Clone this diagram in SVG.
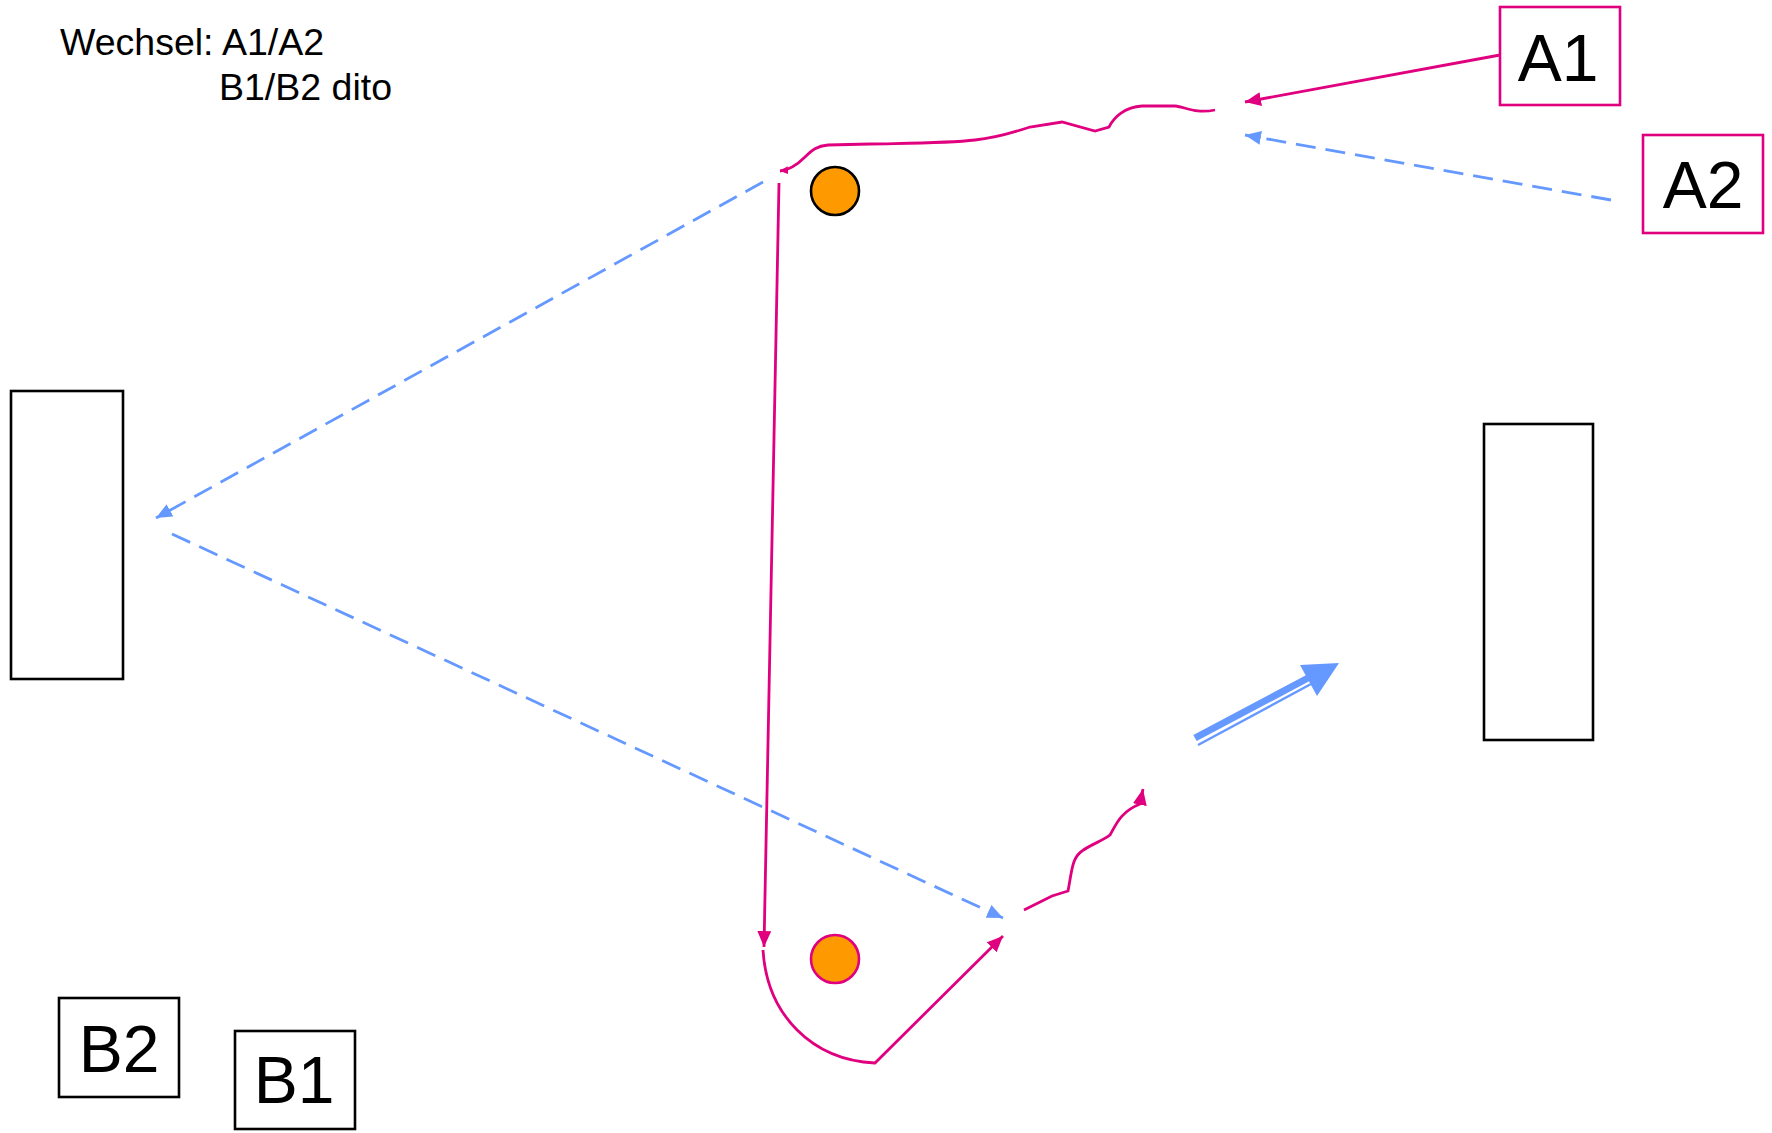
<svg xmlns="http://www.w3.org/2000/svg" width="1772" height="1133" viewBox="0 0 1772 1133">
<style>
.lbl{font-family:"Liberation Sans",Arial,sans-serif;fill:#000}
.big{font-size:66px;text-anchor:middle}
.note{font-size:37.5px}
.mg{fill:none;stroke:#e0007f;stroke-width:2.8}
.bl{fill:none;stroke:#6699ff;stroke-width:2.8;stroke-dasharray:20 10}
.box{fill:#fff;stroke:#000;stroke-width:2.6}
.mbox{fill:#fff;stroke:#e0007f;stroke-width:2.6}
.dot{fill:#ff9900;stroke-width:2.6}
</style>
<defs>
<marker id="am" markerUnits="userSpaceOnUse" markerWidth="17" markerHeight="14" refX="16" refY="7" orient="auto"><path d="M0,0 L16,7 L0,14 z" fill="#e0007f"/></marker>
<marker id="ab" markerUnits="userSpaceOnUse" markerWidth="17" markerHeight="14" refX="16" refY="7" orient="auto"><path d="M0,0 L16,7 L0,14 z" fill="#6699ff"/></marker>
<marker id="ams" markerUnits="userSpaceOnUse" markerWidth="9" markerHeight="8" refX="8" refY="4" orient="auto-start-reverse"><path d="M0,0 L8,4 L0,8 z" fill="#e0007f"/></marker>
</defs>

<g id="caption">
<text class="lbl note" x="60" y="55">Wechsel: A1/A2</text>
<text class="lbl note" x="219" y="100">B1/B2 dito</text>
</g>

<g id="wall-left"><rect class="box" x="11" y="391" width="112" height="288"/></g>
<g id="wall-right"><rect class="box" x="1484" y="424" width="109" height="316"/></g>

<g id="A1"><rect class="mbox" x="1500" y="7" width="120" height="98"/><text class="lbl big" x="1558" y="81">A1</text></g>
<g id="A2"><rect class="mbox" x="1643" y="135" width="120" height="98"/><text class="lbl big" x="1703" y="208">A2</text></g>
<g id="B2"><rect class="box" x="59" y="998" width="120" height="99"/><text class="lbl big" x="119" y="1072">B2</text></g>
<g id="B1"><rect class="box" x="235" y="1031" width="120" height="98"/><text class="lbl big" x="294" y="1103">B1</text></g>

<g id="ball-top"><circle class="dot" cx="835" cy="191" r="24" stroke="#000"/></g>
<g id="ball-bottom"><circle class="dot" cx="835" cy="959" r="24" stroke="#e0007f"/></g>

<g id="connectors">
<line class="mg" x1="1500" y1="55" x2="1245" y2="102" marker-end="url(#am)"/>
<line class="bl" x1="1611" y1="200" x2="1245" y2="135" marker-end="url(#ab)"/>
<path class="mg" d="M780,171 C790,170 797,165 805,157 C812,150 817,146 828,145 L870,144 C920,143 950,143 975,140 C995,138 1012,133 1030,127 L1062,122 L1095,131 L1109,127 C1114,117 1125,107 1142,106 L1175,106 C1186,107 1195,114 1215,110" marker-start="url(#ams)"/>
<line class="mg" x1="779" y1="183" x2="764" y2="947" marker-end="url(#am)"/>
<path class="mg" d="M763,950 C767,1015 812,1060 875,1063 L1003,936" marker-end="url(#am)"/>
<line class="bl" x1="763" y1="182" x2="156" y2="518" marker-end="url(#ab)"/>
<line class="bl" x1="172" y1="534" x2="1003" y2="918" marker-end="url(#ab)"/>
<path class="mg" d="M1024,910 L1052,896 L1068,891 C1072,870 1072,858 1082,851 C1090,845 1104,840 1110,835 C1116,825 1120,812 1140,804 L1143,789" marker-end="url(#am)"/>
<g id="big-arrow">
<line x1="1195" y1="738" x2="1308" y2="678" stroke="#6699ff" stroke-width="7"/>
<line x1="1198" y1="745" x2="1311" y2="684" stroke="#6699ff" stroke-width="2.5"/>
<polygon points="1339,663 1300,665 1317,696" fill="#6699ff"/>
</g>
</g>
</svg>
